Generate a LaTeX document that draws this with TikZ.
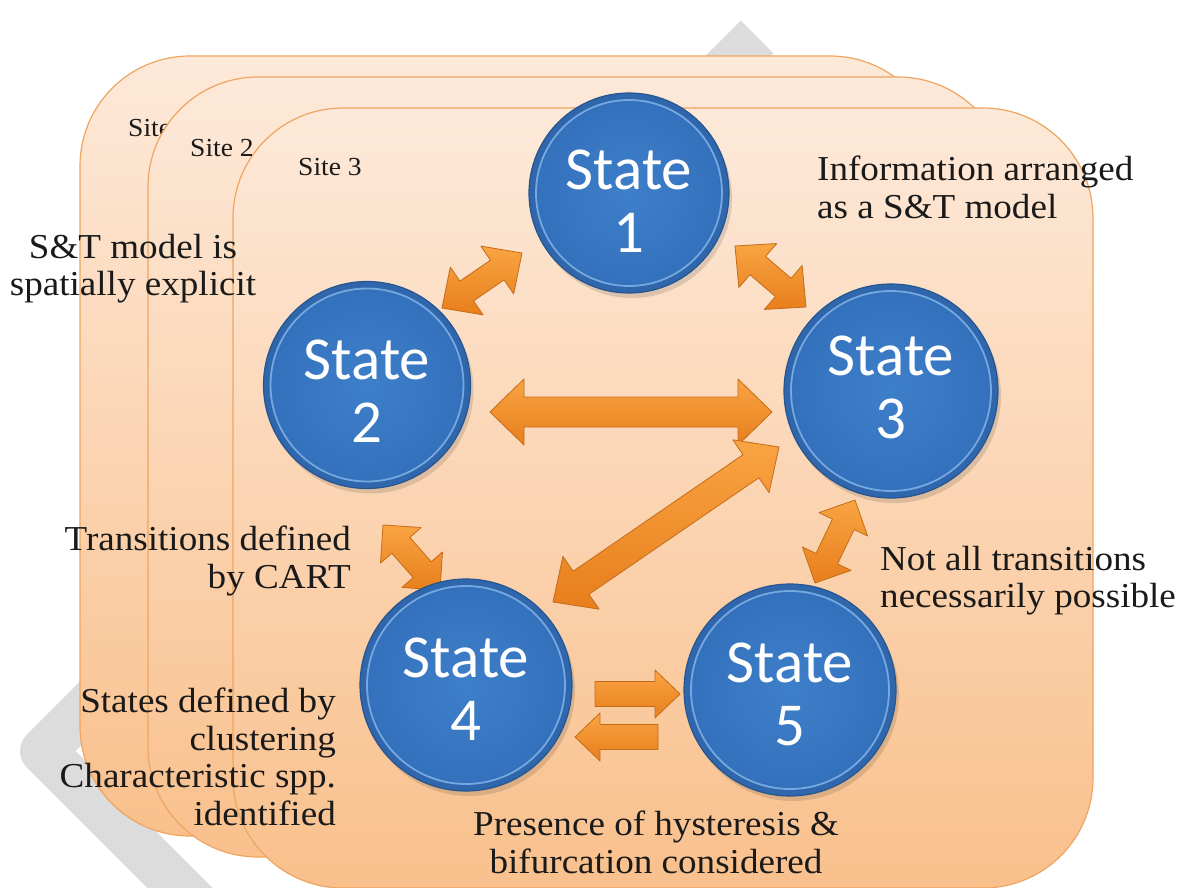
\documentclass[tikz,border=0pt]{standalone}
\usepackage{fontspec}
\setmainfont{Liberation Serif}[FakeStretch=1.06]
\newfontfamily\statefont{Carlito}
\usetikzlibrary{calc}

\definecolor{ink}{HTML}{1A1A1A}
\definecolor{chevrongrey}{HTML}{DCDCDC}
\definecolor{peachA}{HTML}{FDE9D9}
\definecolor{peachM}{HTML}{FCDBC0}
\definecolor{peachB}{HTML}{F9C08C}
\definecolor{boxedge}{HTML}{EFA560}
\definecolor{stateA}{HTML}{3E7FCA}
\definecolor{stateB}{HTML}{3471BC}
\definecolor{stateband}{HTML}{2F66AC}
\definecolor{stateedge}{HTML}{26568F}
\definecolor{staterim}{HTML}{86B8EC}
\definecolor{arrowA}{HTML}{F9A443}
\definecolor{arrowB}{HTML}{E87E1C}
\definecolor{arrowedge}{HTML}{C46C18}

% angle and length of the segment between two named points
\newcommand\arrowframe[2]{%
  \path let \p1=(#1), \p2=(#2) in \pgfextra{%
    \pgfmathsetmacro\tmpang{atan2(\y2-\y1,\x2-\x1)}%
    \pgfmathsetmacro\tmplen{veclen(\x2-\x1,\y2-\y1)}%
    \xdef\arang{\tmpang}\xdef\arlen{\tmplen}};}

% double headed block arrow: from, to, shaft half width, head half width, head length
\newcommand\dblarrow[5]{%
  \arrowframe{#1}{#2}%
  \begin{scope}[shift={(#1)},rotate=\arang]
    \shade[arrowbody] (0pt,0pt) -- (#5pt,#4pt) -- (#5pt,#3pt)
      -- ({(\arlen-#5)*1pt},#3pt) -- ({(\arlen-#5)*1pt},#4pt) -- ({\arlen*1pt},0pt)
      -- ({(\arlen-#5)*1pt},-#4pt) -- ({(\arlen-#5)*1pt},-#3pt)
      -- (#5pt,-#3pt) -- (#5pt,-#4pt) -- cycle;
  \end{scope}}

% single headed block arrow: tail, tip, shaft half width, head half width, head length
\newcommand\sglarrow[5]{%
  \arrowframe{#1}{#2}%
  \begin{scope}[shift={(#1)},rotate=\arang]
    \shade[arrowbody] (0pt,#3pt) -- ({(\arlen-#5)*1pt},#3pt) -- ({(\arlen-#5)*1pt},#4pt)
      -- ({\arlen*1pt},0pt) -- ({(\arlen-#5)*1pt},-#4pt) -- ({(\arlen-#5)*1pt},-#3pt)
      -- (0pt,-#3pt) -- cycle;
  \end{scope}}

\begin{document}
\begin{tikzpicture}[x=1pt,y=-1pt,
  sitebox/.style={top color=peachA, middle color=peachM, bottom color=peachB,
    draw=boxedge, line width=1.2pt, rounded corners=110pt},
  state/.style={circle, minimum size=#1, inner sep=0pt, draw=stateedge,
    line width=1.2pt, fill=stateband},
  face/.style={inner color=stateA, outer color=stateB},
  rim/.style={draw=staterim, line width=1.8pt, opacity=0.8},
  statetext/.style={font=\statefont\fontsize{61}{63}\selectfont, text=white,
    align=center, inner sep=0pt},
  arrowbody/.style={top color=arrowA, bottom color=arrowB, draw=arrowedge,
    line width=0.8pt, line join=round},
  note/.style={font=\fontsize{35}{37.5}\selectfont, text=ink, inner sep=0pt},
  sitelbl/.style={font=\fontsize{26}{30}\selectfont, text=ink, inner sep=0pt}]

\useasboundingbox (0,0) rectangle (1179,888);
\fill[white] (0,0) rectangle (1179,888);

% grey chevron in the background
\begin{scope}
  \clip (0,0) rectangle (1179,888);
  \draw[chevrongrey, line width=46pt, line join=round] (757,37) -- (43,751) -- (260,968);
\end{scope}

% the three stacked site panels
\path[sitebox] (80,56) rectangle (940,836);
\node[sitelbl, anchor=base west] (site1) at (128,137) {Site};
\path[sitebox] (148,77) rectangle (1008,857);
\path[sitebox] (233,108) rectangle (1093,888);
\node[sitelbl, anchor=base west] (site2) at (190,157) {Site 2};
\node[sitelbl, anchor=base west] (site3) at (298,176) {Site 3};

% annotations
\node[note, anchor=north, align=center] (spatial) at (133,234)
  {S\&T model is\\spatially explicit};
\node[note, anchor=north west, align=left] (info) at (817,156)
  {Information arranged\\as a S\&T model};
\node[note, anchor=north east, align=right] (cart) at (351,526)
  {Transitions defined\\by CART};
\node[note, anchor=north west, align=left] (notall) at (880,546)
  {Not all transitions\\necessarily possible};
\node[note, anchor=north east, align=right] (clust) at (336,688)
  {States defined by\\clustering\\Characteristic spp.\\identified};
\node[note, anchor=north, align=center] (hyst) at (656,811)
  {Presence of hysteresis \&\\bifurcation considered};

% transitions
\coordinate (e12a) at (442,308); \coordinate (e12b) at (522,253);
\coordinate (e13a) at (735,246); \coordinate (e13b) at (806,307);
\coordinate (e23a) at (490,412); \coordinate (e23b) at (772,412);
\coordinate (e24a) at (383,525); \coordinate (e24b) at (440,590);
\coordinate (e35a) at (855,500); \coordinate (e35b) at (815,583);
\coordinate (e43a) at (553,602); \coordinate (e43b) at (779,447);
\coordinate (e45a) at (595,694); \coordinate (e45b) at (680,694);
\coordinate (e54a) at (658,737); \coordinate (e54b) at (575,737);

\dblarrow{e12a}{e12b}{12}{29}{30}
\dblarrow{e13a}{e13b}{12}{29}{30}
\dblarrow{e23a}{e23b}{15}{33}{34}
\dblarrow{e24a}{e24b}{12}{27}{27}
\dblarrow{e35a}{e35b}{12}{27}{27}
\dblarrow{e43a}{e43b}{14}{32}{34}
\sglarrow{e45a}{e45b}{12.5}{24}{25}
\sglarrow{e54a}{e54b}{12.5}{24}{25}

% states: centre, diameter, vertical offset of the label
\foreach \n/\x/\y/\d/\o in {1/629/193/200/8, 2/367/385/207/6, 3/891/391/214/-4, 4/466/685/212/4, 5/790/690/212/4}{
  \fill[black, opacity=0.12] (\x+3,\y+5) circle[radius=\d/2];
  \node[state=\d pt] (s\n) at (\x,\y) {};
  \path[face] (s\n.center) circle[radius=\d/2-7];
  \draw[rim] (s\n.center) circle[radius=\d/2-7];
  \node[statetext] (t\n) at ($(s\n.center)+(0,\o)$) {State\\\n};
}
\end{tikzpicture}
\end{document}
